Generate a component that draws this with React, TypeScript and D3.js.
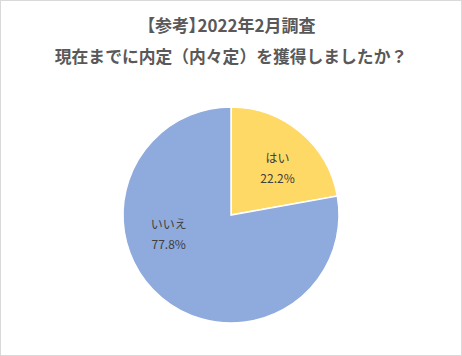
import React from "react";
import * as d3 from "d3";

const categories = ["はい", "いいえ"];
const values = [22.2, 77.8];
const colors = ["#FFD966", "#8FAADC"];
const titleLines = ["【参考】2022年2月調査", "現在までに内定（内々定）を獲得しましたか？"];
// label placement in polar form (degrees clockwise from 12 o'clock, radius fraction)
const labelAngles = [44, 254];
const labelRadii = [0.62, 0.6];

const W = 462;
const H = 356;

export default function App() {
  const cx = 231;
  const cy = 215;
  const r = 108;
  const pie = d3.pie<number>().sort(null).value((d) => d);
  const arcs = pie(values);
  const arc = d3.arc<d3.PieArcDatum<number>>().innerRadius(0).outerRadius(r);
  const font = "'Noto Sans CJK JP', 'Noto Sans', sans-serif";
  return (
    <svg
      width={W}
      height={H}
      style={{ position: "absolute", left: 0, top: 0, background: "#fff" }}
    >
      <rect x={0.5} y={0.5} width={W - 1} height={H - 1} fill="#fff" stroke="#d9d9d9" />
      {titleLines.map((t, i) => (
        <text
          key={i}
          x={W / 2}
          y={32 + i * 31}
          textAnchor="middle"
          fontFamily={font}
          fontWeight="bold"
          fontSize={i === 0 ? 17 : 16.8}
          fill="#595959"
          style={i === 0 ? { fontFeatureSettings: "'palt'" } : undefined}
        >
          {t}
        </text>
      ))}
      <g transform={`translate(${cx},${cy})`}>
        {arcs.map((a, i) => (
          <path key={i} d={arc(a) || ""} fill={colors[i]} stroke="#fff" strokeWidth={1.5} />
        ))}
        {arcs.map((a, i) => {
          const th = (labelAngles[i] * Math.PI) / 180;
          const lr = labelRadii[i] * r;
          const x = lr * Math.sin(th);
          const y = -lr * Math.cos(th);
          return (
            <text
              key={"l" + i}
              x={x}
              y={y}
              textAnchor="middle"
              fontFamily={font}
              fontSize={12}
              fill="#404040"
            >
              <tspan x={x} dy={-4}>{categories[i]}</tspan>
              <tspan x={x} dy={20}>{a.data.toFixed(1) + "%"}</tspan>
            </text>
          );
        })}
      </g>
    </svg>
  );
}
